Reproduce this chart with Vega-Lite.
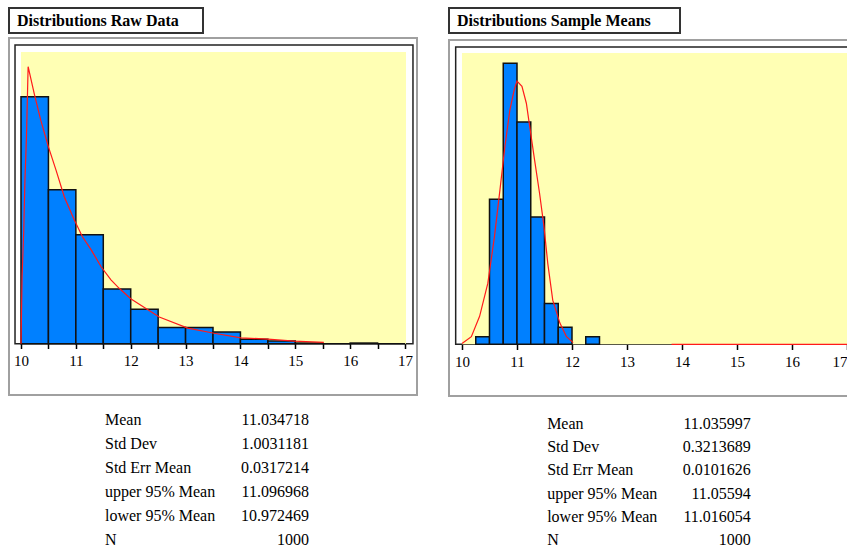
{
  "$schema": "https://vega.github.io/schema/vega-lite/v6.json",
  "background": "white",
  "padding": {"left": 8, "top": 7, "right": 0, "bottom": 0},
  "config": {
    "font": "Liberation Serif",
    "axisX": {
      "offset": -51.5,
      "domain": false,
      "grid": false,
      "title": null,
      "values": [10, 10.5, 11, 11.5, 12, 12.5, 13, 13.5, 14, 14.5, 15, 15.5, 16, 16.5, 17],
      "labelExpr": "datum.value % 1 == 0 ? format(datum.value, 'd') : ''",
      "labelFont": "Liberation Serif",
      "labelFontSize": 15,
      "labelColor": "black",
      "labelPadding": 5,
      "labelOverlap": false,
      "labelBound": false,
      "labelFlush": 5,
      "tickColor": "black",
      "tickSize": 5,
      "tickWidth": 1.5
    }
  },
  "datasets": {
    "rawBins": [
      {"bin_start": 10, "bin_end": 10.5, "count": 379},
      {"bin_start": 10.5, "bin_end": 11, "count": 236},
      {"bin_start": 11, "bin_end": 11.5, "count": 167},
      {"bin_start": 11.5, "bin_end": 12, "count": 84},
      {"bin_start": 12, "bin_end": 12.5, "count": 53},
      {"bin_start": 12.5, "bin_end": 13, "count": 25},
      {"bin_start": 13, "bin_end": 13.5, "count": 25},
      {"bin_start": 13.5, "bin_end": 14, "count": 18},
      {"bin_start": 14, "bin_end": 14.5, "count": 7},
      {"bin_start": 14.5, "bin_end": 15, "count": 4},
      {"bin_start": 15, "bin_end": 15.5, "count": 1},
      {"bin_start": 15.5, "bin_end": 16, "count": 0},
      {"bin_start": 16, "bin_end": 16.5, "count": 1},
      {"bin_start": 16.5, "bin_end": 17, "count": 0}
    ],
    "rawCurve": [
      {"x": 10.0, "y": 0, "seg": 1},
      {"x": 10.02, "y": 103, "seg": 1},
      {"x": 10.05, "y": 174, "seg": 1},
      {"x": 10.07, "y": 246, "seg": 1},
      {"x": 10.1, "y": 318, "seg": 1},
      {"x": 10.13, "y": 425, "seg": 1},
      {"x": 10.24, "y": 384, "seg": 1},
      {"x": 10.36, "y": 343, "seg": 1},
      {"x": 10.5, "y": 302, "seg": 1},
      {"x": 10.64, "y": 266, "seg": 1},
      {"x": 10.79, "y": 225, "seg": 1},
      {"x": 10.97, "y": 190, "seg": 1},
      {"x": 11.12, "y": 164, "seg": 1},
      {"x": 11.28, "y": 144, "seg": 1},
      {"x": 11.46, "y": 118, "seg": 1},
      {"x": 11.64, "y": 98, "seg": 1},
      {"x": 11.79, "y": 85, "seg": 1},
      {"x": 12.0, "y": 69, "seg": 1},
      {"x": 12.52, "y": 41, "seg": 1},
      {"x": 13.04, "y": 24, "seg": 1},
      {"x": 13.52, "y": 16, "seg": 1},
      {"x": 14.01, "y": 9, "seg": 1},
      {"x": 14.5, "y": 7, "seg": 1},
      {"x": 14.98, "y": 4, "seg": 1},
      {"x": 15.52, "y": 2, "seg": 1}
    ],
    "meanBins": [
      {"bin_start": 10.25, "bin_end": 10.5, "count": 9},
      {"bin_start": 10.5, "bin_end": 10.75, "count": 171},
      {"bin_start": 10.75, "bin_end": 11, "count": 331},
      {"bin_start": 11, "bin_end": 11.25, "count": 262},
      {"bin_start": 11.25, "bin_end": 11.5, "count": 150},
      {"bin_start": 11.5, "bin_end": 11.75, "count": 48},
      {"bin_start": 11.75, "bin_end": 12, "count": 20},
      {"bin_start": 12.25, "bin_end": 12.5, "count": 9}
    ],
    "meanCurve": [
      {"x": 10.0, "y": 1, "seg": 1},
      {"x": 10.17, "y": 9, "seg": 1},
      {"x": 10.32, "y": 33, "seg": 1},
      {"x": 10.47, "y": 72, "seg": 1},
      {"x": 10.59, "y": 127, "seg": 1},
      {"x": 10.69, "y": 182, "seg": 1},
      {"x": 10.78, "y": 233, "seg": 1},
      {"x": 10.87, "y": 276, "seg": 1},
      {"x": 10.95, "y": 300, "seg": 1},
      {"x": 11.0, "y": 310, "seg": 1},
      {"x": 11.09, "y": 304, "seg": 1},
      {"x": 11.17, "y": 284, "seg": 1},
      {"x": 11.23, "y": 257, "seg": 1},
      {"x": 11.32, "y": 217, "seg": 1},
      {"x": 11.41, "y": 178, "seg": 1},
      {"x": 11.49, "y": 139, "seg": 1},
      {"x": 11.56, "y": 95, "seg": 1},
      {"x": 11.65, "y": 52, "seg": 1},
      {"x": 11.78, "y": 25, "seg": 1},
      {"x": 11.9, "y": 9, "seg": 1},
      {"x": 12.02, "y": 2, "seg": 1},
      {"x": 13.81, "y": 0, "seg": 2},
      {"x": 17.05, "y": 0, "seg": 2}
    ],
    "rawStats": [
      {"row": 1, "stat": "Mean", "value": "11.034718"},
      {"row": 2, "stat": "Std Dev", "value": "1.0031181"},
      {"row": 3, "stat": "Std Err Mean", "value": "0.0317214"},
      {"row": 4, "stat": "upper 95% Mean", "value": "11.096968"},
      {"row": 5, "stat": "lower 95% Mean", "value": "10.972469"},
      {"row": 6, "stat": "N", "value": "1000"}
    ],
    "meanStats": [
      {"row": 1, "stat": "Mean", "value": "11.035997"},
      {"row": 2, "stat": "Std Dev", "value": "0.3213689"},
      {"row": 3, "stat": "Std Err Mean", "value": "0.0101626"},
      {"row": 4, "stat": "upper 95% Mean", "value": "11.05594"},
      {"row": 5, "stat": "lower 95% Mean", "value": "11.016054"},
      {"row": 6, "stat": "N", "value": "1000"}
    ],
    "titles": [
      {"panel": "raw", "title": "Distributions Raw Data"},
      {"panel": "mean", "title": "Distributions Sample Means"}
    ]
  },
  "hconcat": [
    {
      "spacing": 3,
      "vconcat": [
        {
          "width": 194,
          "height": 25,
          "view": {"stroke": "#333333", "strokeWidth": 2, "fill": "white"},
          "data": {"name": "titles"},
          "transform": [{"filter": "datum.panel == 'raw'"}],
          "mark": {"type": "text", "align": "left", "baseline": "middle", "dx": 8, "fontWeight": "bold", "fontSize": 16, "font": "Liberation Serif", "color": "black"},
          "encoding": {
            "x": {"datum": 0, "type": "quantitative", "scale": {"domain": [0, 1]}, "axis": null},
            "text": {"field": "title"}
          }
        },
        {
          "width": 408,
          "height": 357,
          "view": {"stroke": "#a0a0a0", "strokeWidth": 2, "fill": "white"},
          "layer": [
            {
              "data": {"values": [{}]},
              "mark": {"type": "rect", "fill": "white", "stroke": "#222222", "strokeWidth": 1.5},
              "encoding": {
                "x": {"datum": 9.891, "type": "quantitative", "scale": {"domain": [9.7813, 17.2184], "nice": false, "zero": false}},
                "x2": {"datum": 17.145},
                "y": {"datum": 0, "type": "quantitative", "scale": {"domain": [-78.7, 469], "nice": false, "zero": false}, "axis": null},
                "y2": {"datum": 458.2}
              }
            },
            {
              "data": {"values": [{}]},
              "mark": {"type": "rect", "fill": "#ffffb4"},
              "encoding": {
                "x": {"datum": 10, "type": "quantitative"},
                "x2": {"datum": 17.018},
                "y": {"datum": 0, "type": "quantitative", "axis": null},
                "y2": {"datum": 447.5}
              }
            },
            {
              "data": {"name": "rawBins"},
              "mark": {"type": "rect", "fill": "#0080ff", "stroke": "#111111", "strokeWidth": 1.5},
              "encoding": {
                "x": {"field": "bin_start", "type": "quantitative"},
                "x2": {"field": "bin_end"},
                "y": {"field": "count", "type": "quantitative", "axis": null},
                "y2": {"datum": 0}
              }
            },
            {
              "data": {"name": "rawCurve"},
              "mark": {"type": "line", "color": "#ff1a1a", "strokeWidth": 1.2},
              "encoding": {
                "x": {"field": "x", "type": "quantitative"},
                "y": {"field": "y", "type": "quantitative", "axis": null},
                "detail": {"field": "seg"}
              }
            }
          ]
        },
        {
          "width": 396,
          "height": 140,
          "view": {"stroke": null},
          "data": {"name": "rawStats"},
          "layer": [
            {
              "mark": {"type": "text", "align": "left", "baseline": "middle", "dy": 11, "fontSize": 16, "font": "Liberation Serif", "color": "black"},
              "encoding": {
                "x": {"datum": "name", "type": "nominal", "scale": {"type": "point", "domain": ["name", "value"], "padding": 0.4706}, "axis": null},
                "y": {"field": "row", "type": "ordinal", "scale": {"type": "point", "padding": 0.417}, "axis": null},
                "text": {"field": "stat"}
              }
            },
            {
              "mark": {"type": "text", "align": "right", "baseline": "middle", "dy": 11, "fontSize": 16, "font": "Liberation Serif", "color": "black"},
              "encoding": {
                "x": {"datum": "value", "type": "nominal", "axis": null},
                "y": {"field": "row", "type": "ordinal", "axis": null},
                "text": {"field": "value"}
              }
            }
          ]
        }
      ]
    },
    {
      "spacing": 5,
      "vconcat": [
        {
          "width": 231,
          "height": 25,
          "view": {"stroke": "#333333", "strokeWidth": 2, "fill": "white"},
          "data": {"name": "titles"},
          "transform": [{"filter": "datum.panel == 'mean'"}],
          "mark": {"type": "text", "align": "left", "baseline": "middle", "dx": 8, "fontWeight": "bold", "fontSize": 16, "font": "Liberation Serif", "color": "black"},
          "encoding": {
            "x": {"datum": 0, "type": "quantitative", "scale": {"domain": [0, 1]}, "axis": null},
            "text": {"field": "title"}
          }
        },
        {
          "width": 400,
          "height": 356,
          "view": {"stroke": "#a0a0a0", "strokeWidth": 2, "fill": "white"},
          "layer": [
            {
              "data": {"values": [{}]},
              "mark": {"type": "rect", "fill": "white", "stroke": "#222222", "strokeWidth": 1.5, "clip": true},
              "encoding": {
                "x": {"datum": 9.885, "type": "quantitative", "scale": {"domain": [9.7636, 17.0364], "nice": false, "zero": false}},
                "x2": {"datum": 17.3},
                "y": {"datum": 0, "type": "quantitative", "scale": {"domain": [-60.9, 358.5], "nice": false, "zero": false}, "axis": null},
                "y2": {"datum": 350.2}
              }
            },
            {
              "data": {"values": [{}]},
              "mark": {"type": "rect", "fill": "#ffffb4", "clip": true},
              "encoding": {
                "x": {"datum": 10, "type": "quantitative"},
                "x2": {"datum": 17.3},
                "y": {"datum": 0, "type": "quantitative", "axis": null},
                "y2": {"datum": 343.2}
              }
            },
            {
              "data": {"name": "meanBins"},
              "mark": {"type": "rect", "fill": "#0080ff", "stroke": "#111111", "strokeWidth": 1.5},
              "encoding": {
                "x": {"field": "bin_start", "type": "quantitative"},
                "x2": {"field": "bin_end"},
                "y": {"field": "count", "type": "quantitative", "axis": null},
                "y2": {"datum": 0}
              }
            },
            {
              "data": {"name": "meanCurve"},
              "mark": {"type": "line", "color": "#ff1a1a", "strokeWidth": 1.2, "clip": true},
              "encoding": {
                "x": {"field": "x", "type": "quantitative"},
                "y": {"field": "y", "type": "quantitative", "axis": null},
                "detail": {"field": "seg"}
              }
            }
          ]
        },
        {
          "width": 400,
          "height": 136,
          "view": {"stroke": null},
          "data": {"name": "meanStats"},
          "layer": [
            {
              "mark": {"type": "text", "align": "left", "baseline": "middle", "dy": 12, "fontSize": 16, "font": "Liberation Serif", "color": "black"},
              "encoding": {
                "x": {"datum": "name", "type": "nominal", "scale": {"type": "point", "domain": ["name", "value"], "padding": 0.4818}, "axis": null},
                "y": {"field": "row", "type": "ordinal", "scale": {"type": "point", "padding": 0.417}, "axis": null},
                "text": {"field": "stat"}
              }
            },
            {
              "mark": {"type": "text", "align": "right", "baseline": "middle", "dy": 12, "fontSize": 16, "font": "Liberation Serif", "color": "black"},
              "encoding": {
                "x": {"datum": "value", "type": "nominal", "axis": null},
                "y": {"field": "row", "type": "ordinal", "axis": null},
                "text": {"field": "value"}
              }
            }
          ]
        }
      ]
    }
  ],
  "spacing": 30
}
